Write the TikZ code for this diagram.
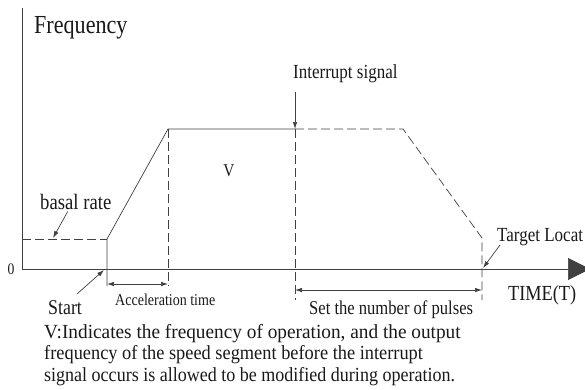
\documentclass[tikz,border=0pt]{standalone}
\usepackage{fontspec}
\usepackage{graphicx}
\setmainfont{Liberation Serif}[FakeStretch=0.85]
\usetikzlibrary{arrows.meta}
\begin{document}
\begin{tikzpicture}[x=1pt,y=-1pt,
  ln/.style={line width=0.7pt, draw=black!75},
  dsh/.style={ln, dash pattern=on 9pt off 4pt},
  dim/.style={ln, {Latex[length=7pt,width=4.5pt]}-{Latex[length=7pt,width=4.5pt]}},
  ptr/.style={ln, -{Latex[length=7pt,width=4.5pt]}},
  lbl/.style={inner sep=0pt, text=black!90},
  fs/.style={font=\fontsize{#1}{#1}\selectfont}]
\useasboundingbox (0,0) rectangle (585,389);
% axes
\coordinate (O) at (22,269);
\coordinate (Ytop) at (22,8);
\coordinate (Xend) at (590,269);
\draw[ln] (O) -- (Ytop);
\draw[ln, -{Triangle[length=22pt,width=22pt]}] (O) -- (Xend);
% key points
\coordinate (B0) at (22,239);
\coordinate (S) at (107,239);
\coordinate (Sd) at (107,286);
\coordinate (A) at (168,129);
\coordinate (Ad) at (168,286);
\coordinate (I) at (295,129);
\coordinate (Itop) at (295,92);
\coordinate (Id) at (295,300);
\coordinate (D) at (403,129);
\coordinate (T) at (482,238);
\coordinate (Td) at (482,300);
% profile
\draw[dsh] (B0) -- (S);
\draw[ln] (Sd) -- (S) -- (A) -- (I);
\draw[dsh] (I) -- (D) -- (T) -- (Td);
\draw[dsh] (A) -- (Ad);
\draw[dsh] (I) -- (Id);
\draw[ptr] (Itop) -- (I);
% dimension arrows
\coordinate (Acc1) at (107,284);
\coordinate (Acc2) at (168,284);
\draw[dim] (Acc1) -- (Acc2);
\coordinate (P1) at (295,290);
\coordinate (P2) at (482,290);
\draw[dim] (P1) -- (P2);
% labels
\node[lbl, fs=26, anchor=base west] (freq) at (34,33) {Frequency};
\node[lbl, fs=16] (zero) at (11,269) {0};
\node[lbl, fs=22, anchor=base west] (basal) at (40,209) {basal rate};
\coordinate (Bt) at (53,238);
\draw[ptr] (basal.south) ++(-8,2) -- (Bt);
\node[lbl, fs=18] (V) at (229,171) {V};
\node[lbl, fs=20, anchor=base west] (intr) at (293,78) {Interrupt signal};
\node[lbl, fs=20, anchor=base west] (targ) at (497,241) {Target Locat};
\coordinate (Tt) at (483,268);
\draw[ptr] (500,245) -- (Tt);
\node[lbl, fs=21.5, anchor=base west] (time) at (508,300) {TIME(T)};
\node[lbl, fs=21, anchor=base west] (start) at (48,314) {Start};
\coordinate (St) at (104,270);
\draw[ptr] (start.north) ++(12,-6) -- (St);
\node[lbl, fs=16.5, anchor=base west] (acc) at (115,305) {Acceleration time};
\node[lbl, fs=19.5, anchor=base west] (pul) at (309,314) {Set the number of pulses};
\node[lbl, fs=20, anchor=base west] (n1) at (44,338) {\scalebox{1.135}[1]{V:Indicates the frequency of operation, and the output}};
\node[lbl, fs=20, anchor=base west] (n2) at (44,359) {\scalebox{1.08}[1]{frequency of the speed segment before the interrupt}};
\node[lbl, fs=20, anchor=base west] (n3) at (44,381) {\scalebox{1.06}[1]{signal occurs is allowed to be modified during operation.}};
\end{tikzpicture}
\end{document}
